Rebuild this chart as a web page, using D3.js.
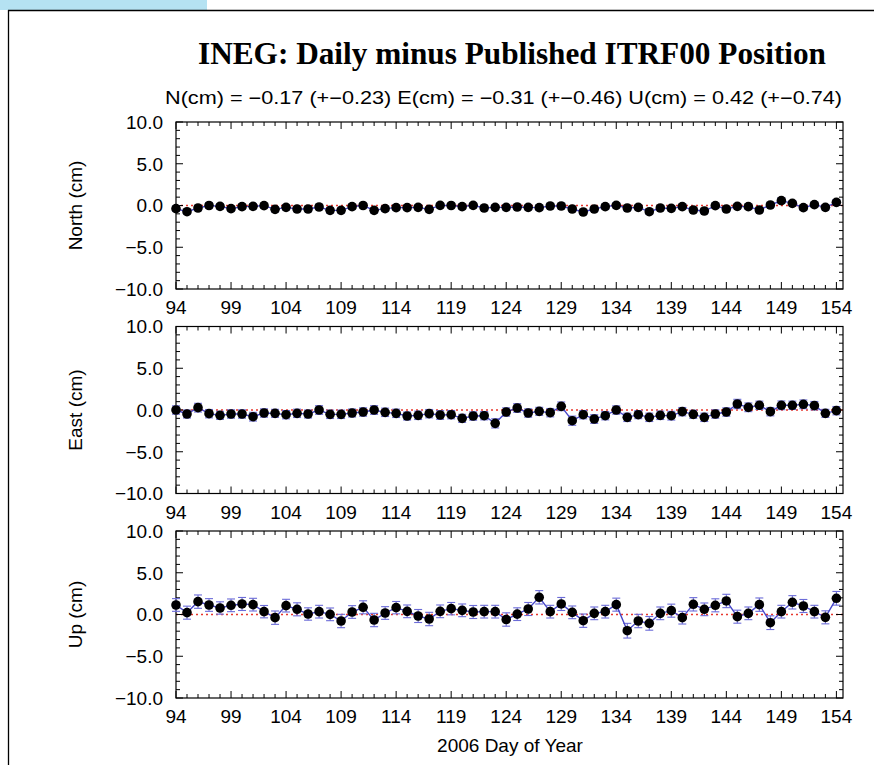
<!DOCTYPE html>
<html>
<head>
<meta charset="utf-8">
<script src="https://cdn.jsdelivr.net/npm/d3@7"></script>
<style>
html,body{margin:0;padding:0;background:#fff;}
svg{display:block;}
text{font-family:"Liberation Sans",Arial,Helvetica,sans-serif;fill:#000;}
</style>
</head>
<body>
<svg id="chart" width="874" height="765"></svg>
<script>
// ---------- DATA ----------
const days = d3.range(94, 155); // 2006 day of year 94..154
const xTickLabels = ["94","99","104","109","114","119","124","129","134","139","144","149","154"];
const yTickLabels = ["10.0","5.0","0.0","\u22125.0","\u221210.0"];
const panelNames = ["North (cm)", "East (cm)", "Up (cm)"];
const titleText = "INEG: Daily minus Published ITRF00 Position";
const subtitleText = "N(cm) = \u22120.17 (+\u22120.23)  E(cm) = \u22120.31 (+\u22120.46)  U(cm) = 0.42 (+\u22120.74)";
const xAxisTitle = "2006 Day of Year";

const north = [
 -0.38,-0.74,-0.30,0.00,-0.10,-0.38,-0.14,-0.10,-0.02,-0.46,
 -0.22,-0.42,-0.42,-0.18,-0.58,-0.58,-0.14,0.00,-0.58,-0.38,
 -0.26,-0.26,-0.22,-0.46,0.02,0.00,-0.14,0.02,-0.30,-0.22,
 -0.22,-0.18,-0.22,-0.26,-0.06,-0.06,-0.42,-0.78,-0.42,-0.14,
 0.02,-0.30,-0.22,-0.74,-0.30,-0.34,-0.14,-0.54,-0.66,-0.02,
 -0.42,-0.10,-0.14,-0.54,0.06,0.58,0.26,-0.26,0.10,-0.22,
 0.38];
const northErr = [
 0.30,0.28,0.30,0.32,0.30,0.28,0.30,0.30,0.28,0.30,
 0.30,0.28,0.30,0.30,0.32,0.30,0.30,0.28,0.30,0.30,
 0.30,0.28,0.30,0.30,0.30,0.28,0.30,0.30,0.28,0.30,
 0.30,0.30,0.28,0.30,0.30,0.32,0.30,0.30,0.28,0.30,
 0.30,0.30,0.28,0.30,0.30,0.30,0.28,0.30,0.30,0.30,
 0.30,0.28,0.30,0.30,0.30,0.32,0.30,0.30,0.28,0.30,
 0.32];
const east = [
 0.00,-0.48,0.28,-0.44,-0.64,-0.48,-0.48,-0.80,-0.36,-0.40,
 -0.56,-0.40,-0.48,0.00,-0.52,-0.52,-0.36,-0.24,0.00,-0.28,
 -0.40,-0.72,-0.64,-0.44,-0.60,-0.56,-1.00,-0.72,-0.68,-1.60,
 -0.24,0.24,-0.36,-0.16,-0.32,0.44,-1.28,-0.56,-1.08,-0.68,
 0.00,-0.88,-0.56,-0.88,-0.64,-0.68,-0.20,-0.52,-0.88,-0.48,
 -0.24,0.72,0.32,0.56,-0.20,0.56,0.56,0.68,0.52,-0.40,
 -0.08];
const eastErr = [
 0.50,0.48,0.52,0.50,0.48,0.50,0.50,0.52,0.50,0.48,
 0.50,0.50,0.48,0.52,0.50,0.50,0.48,0.50,0.52,0.50,
 0.50,0.48,0.50,0.50,0.52,0.50,0.48,0.50,0.50,0.55,
 0.50,0.52,0.50,0.48,0.50,0.52,0.55,0.50,0.52,0.50,
 0.50,0.50,0.48,0.50,0.50,0.52,0.50,0.48,0.50,0.50,
 0.50,0.56,0.52,0.50,0.50,0.52,0.50,0.52,0.50,0.48,
 0.50];
const up = [
 1.14,0.22,1.54,1.14,0.78,1.10,1.26,1.18,0.34,-0.38,
 1.06,0.62,0.06,0.34,0.02,-0.78,0.30,0.86,-0.66,0.18,
 0.82,0.38,-0.18,-0.54,0.38,0.70,0.50,0.30,0.34,0.34,
 -0.60,0.04,0.66,2.06,0.34,1.26,0.26,-0.74,0.14,0.34,
 1.18,-1.94,-0.78,-1.06,0.14,0.46,-0.38,1.22,0.62,1.10,
 1.62,-0.26,0.14,1.18,-0.98,0.34,1.46,1.02,0.34,-0.34,
 1.94];
const upErr = [
 0.76,0.78,0.80,0.76,0.74,0.76,0.78,0.76,0.74,0.80,
 0.76,0.78,0.74,0.76,0.76,0.80,0.76,0.78,0.80,0.76,
 0.74,0.76,0.78,0.80,0.76,0.74,0.76,0.78,0.76,0.76,
 0.80,0.76,0.78,0.80,0.76,0.78,0.76,0.80,0.76,0.76,
 0.78,0.88,0.80,0.82,0.76,0.78,0.76,0.80,0.76,0.78,
 0.80,0.78,0.76,0.80,0.82,0.76,0.80,0.78,0.76,0.78,
 0.82];

const series = [
  {name: panelNames[0], vals: north, errs: northErr},
  {name: panelNames[1], vals: east, errs: eastErr},
  {name: panelNames[2], vals: up, errs: upErr}
];

// ---------- LAYOUT ----------
const svg = d3.select("#chart");
const plotLeft = 176, plotRight = 843;
const panelTops = [122, 326.5, 531];
const panelH = 167;

// page decoration
svg.append("rect").attr("x",0).attr("y",0).attr("width",207).attr("height",10).attr("fill","#b5e2f2");
svg.append("line").attr("x1",8).attr("x2",874).attr("y1",10.5).attr("y2",10.5).attr("stroke","#000").attr("stroke-width",1.3);
svg.append("line").attr("x1",8.5).attr("x2",8.5).attr("y1",10).attr("y2",765).attr("stroke","#000").attr("stroke-width",1.3);

// title (condensed bold serif)
svg.append("text").attr("x",512).attr("y",64).attr("text-anchor","middle")
  .style("font-family","'Liberation Serif','Times New Roman',serif").style("font-weight","bold")
  .style("font-size","31px").attr("textLength",628).attr("lengthAdjust","spacingAndGlyphs")
  .text(titleText);

svg.append("text").attr("x",503.5).attr("y",104).attr("text-anchor","middle")
  .style("font-size","18px").attr("textLength",677).attr("lengthAdjust","spacingAndGlyphs")
  .text(subtitleText);

const x = d3.scaleLinear().domain([94, 154.6]).range([plotLeft, plotRight]);
const tickVals = xTickLabels.map(Number);
const yTickVals = [10, 5, 0, -5, -10];

series.forEach((s, i) => {
  const top = panelTops[i], bottom = top + panelH;
  const y = d3.scaleLinear().domain([-10, 10]).range([bottom, top]);
  const g = svg.append("g");

  // zero line
  g.append("line").attr("x1",plotLeft).attr("x2",plotRight).attr("y1",y(0)).attr("y2",y(0))
    .attr("stroke","#e8372e").attr("stroke-width",1.4).attr("stroke-dasharray","2,3");

  // ticks: x minor & major (top and bottom, inward)
  d3.range(94, 155).forEach(d => {
    const major = tickVals.includes(d);
    const len = major ? 7 : 4;
    g.append("line").attr("x1",x(d)).attr("x2",x(d)).attr("y1",bottom).attr("y2",bottom-len).attr("stroke","#000").attr("stroke-width",1);
    g.append("line").attr("x1",x(d)).attr("x2",x(d)).attr("y1",top).attr("y2",top+len).attr("stroke","#000").attr("stroke-width",1);
  });
  // y minor & major (left and right, inward)
  d3.range(-10, 11).forEach(v => {
    const major = v % 5 === 0;
    const len = major ? 7 : 4;
    g.append("line").attr("x1",plotLeft).attr("x2",plotLeft+len).attr("y1",y(v)).attr("y2",y(v)).attr("stroke","#000").attr("stroke-width",1);
    g.append("line").attr("x1",plotRight).attr("x2",plotRight-len).attr("y1",y(v)).attr("y2",y(v)).attr("stroke","#000").attr("stroke-width",1);
  });

  // frame
  g.append("rect").attr("x",plotLeft).attr("y",top).attr("width",plotRight-plotLeft).attr("height",panelH)
    .attr("fill","none").attr("stroke","#000").attr("stroke-width",1.2);

  // y tick labels
  yTickVals.forEach((v, k) => {
    g.append("text").attr("x",163).attr("y",y(v)).attr("dy","0.36em").attr("text-anchor","end")
      .style("font-size","19px").text(yTickLabels[k]);
  });
  // x tick labels
  tickVals.forEach((v, k) => {
    g.append("text").attr("x",x(v)).attr("y",bottom+25).attr("text-anchor","middle")
      .style("font-size","19px").text(xTickLabels[k]);
  });

  // y axis title
  g.append("text").attr("transform",`translate(82,${(top+bottom)/2}) rotate(-90)`)
    .attr("text-anchor","middle").style("font-size","19px").text(s.name);

  // error bars
  const eb = g.append("g").attr("stroke","#6c6cd8").attr("stroke-width",1.1);
  days.forEach((d, k) => {
    const cx = x(d), y1 = y(s.vals[k] + s.errs[k]), y2 = y(s.vals[k] - s.errs[k]);
    eb.append("line").attr("x1",cx).attr("x2",cx).attr("y1",y1).attr("y2",y2);
    eb.append("line").attr("x1",cx-4).attr("x2",cx+4).attr("y1",y1).attr("y2",y1);
    eb.append("line").attr("x1",cx-4).attr("x2",cx+4).attr("y1",y2).attr("y2",y2);
  });

  // connecting line
  const line = d3.line().x((v,k) => x(days[k])).y(v => y(v));
  g.append("path").datum(s.vals).attr("d", line).attr("fill","none")
    .attr("stroke","#4646c8").attr("stroke-width",1.4);

  // points
  g.selectAll("circle.pt").data(s.vals).enter().append("circle")
    .attr("cx",(v,k) => x(days[k])).attr("cy", v => y(v)).attr("r",4.8).attr("fill","#000");
});

// x axis title
svg.append("text").attr("x",510).attr("y",752).attr("text-anchor","middle")
  .style("font-size","19px").text(xAxisTitle);
</script>
</body>
</html>
